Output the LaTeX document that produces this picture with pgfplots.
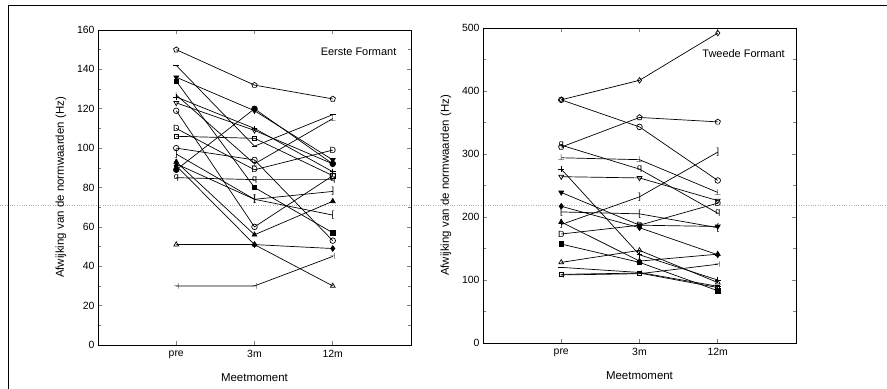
\documentclass[border=0pt]{standalone}
\usepackage{pgfplots}
\pgfplotsset{compat=1.18}
\usepackage{fontspec}
\setmainfont{Liberation Sans}
\usetikzlibrary{plotmarks}
\begin{document}
\begin{tikzpicture}
\path[use as bounding box] (0,0) rectangle (887bp,389bp);
\draw[line width=0.8pt] (8bp,0bp) -- (8bp,384bp) -- (887bp,384bp);
\draw[gray!60, dotted, line width=0.4pt] (0bp,184bp) -- (887bp,184bp);
\pgfplotsset{
  myax/.style={
    scale only axis, width=313bp, height=315bp, anchor=south west,
    xmin=0, xmax=4, xtick={1,2,3}, xticklabels={pre,3m,12m},
    minor y tick num=1,
    tick label style={font=\fontsize{10.5}{11}\selectfont},
    label style={font=\fontsize{11.5}{12}\selectfont},
    /pgf/number format/assume math mode=true,
    axis line style={line width=0.7pt},
    tick style={line width=0.6pt},
    xlabel={Meetmoment},
    ylabel={Afwijking van de normwaarden (Hz)},
    xlabel style={yshift=-8pt},
    ylabel style={yshift=4pt},
    xticklabel style={yshift=-2pt},
    every axis plot/.append style={black, line width=0.7pt, mark size=2.8pt, mark options={solid, line width=0.7pt}},
    tm/.style={mark=text, text mark={\fontsize{9}{9}\selectfont ##1}},
  }
}
% ---------------- Left panel ----------------
\begin{axis}[myax, at={(98bp,44bp)}, ymin=0, ymax=160, ytick={0,20,...,160}]
\addplot[mark=pentagon] coordinates {(1,150) (2,132) (3,125)};
\addplot[mark=-] coordinates {(1,142) (2,101) (3,117)};
\addplot[mark=triangle*, mark options={rotate=180}] coordinates {(1,136) (2,119) (3,94)};
\addplot[mark=square*, mark size=2.3pt] coordinates {(1,134) (2,80) (3,57)};
\addplot[mark=+] coordinates {(1,126) (2,110) (3,88)};
\addplot[tm={$\perp$}] coordinates {(1,127) (2,92) (3,115)};
\addplot[mark=triangle, mark options={rotate=180}] coordinates {(1,123) (2,109) (3,92)};
\addplot[mark=o] coordinates {(1,119) (2,60) (3,86)};
\addplot[tm={D}] coordinates {(1,110) (2,89) (3,99)};
\addplot[mark=square, mark size=2.3pt] coordinates {(1,106) (2,105) (3,86)};
\addplot[tm={]}] coordinates {(1,97) (2,74) (3,78)};
\addplot[mark=triangle*] coordinates {(1,93) (2,56) (3,73)};
\addplot[mark=diamond*] coordinates {(1,91) (2,51) (3,49)};
\addplot[mark=*] coordinates {(1,89) (2,120) (3,92)};
\addplot[tm={q}] coordinates {(1,85) (2,84) (3,84)};
\addplot[tm={[}] coordinates {(1,92) (2,74) (3,66)};
\addplot[mark=o] coordinates {(1,100) (2,94) (3,53)};
\addplot[mark=triangle] coordinates {(1,51) (2,51) (3,30)};
\addplot[tm={$\dashv$}] coordinates {(1,30) (2,30) (3,45)};
\node[font=\fontsize{11}{12}\selectfont] at (axis cs:3.33,149) {Eerste Formant};
\end{axis}
% ---------------- Right panel ----------------
\begin{axis}[myax, at={(483bp,46bp)}, ymin=0, ymax=500, ytick={0,100,...,500}]
\addplot[mark=diamond] coordinates {(1,386) (2,417) (3,492)};
\addplot[mark=o] coordinates {(1,386) (2,343) (3,258)};
\addplot[mark=pentagon] coordinates {(1,311) (2,358) (3,351)};
\addplot[tm={q}] coordinates {(1,314) (2,276) (3,206)};
\addplot[tm={$\perp$}] coordinates {(1,294) (2,291) (3,239)};
\addplot[mark=+] coordinates {(1,276) (2,140) (3,100)};
\addplot[mark=triangle, mark options={rotate=180}] coordinates {(1,264) (2,262) (3,226)};
\addplot[mark=triangle*, mark options={rotate=180}] coordinates {(1,239) (2,187) (3,185)};
\addplot[mark=diamond*] coordinates {(1,217) (2,183) (3,140)};
\addplot[tm={[}] coordinates {(1,208) (2,205) (3,183)};
\addplot[mark=triangle*] coordinates {(1,192) (2,130) (3,141)};
\addplot[tm={]}] coordinates {(1,188) (2,232) (3,303)};
\addplot[tm={D}] coordinates {(1,173) (2,187) (3,222)};
\addplot[mark=square*, mark size=2.3pt] coordinates {(1,157) (2,128) (3,83)};
\addplot[mark=triangle] coordinates {(1,128) (2,147) (3,96)};
\addplot[mark=-] coordinates {(1,120) (2,112) (3,90)};
\addplot[mark=square, mark size=2pt] coordinates {(1,109) (2,111) (3,88)};
\addplot[tm={$\dashv$}] coordinates {(1,108) (2,110) (3,125)};
\node[font=\fontsize{11}{12}\selectfont] at (axis cs:3.33,460) {Tweede Formant};
\end{axis}
\end{tikzpicture}
\end{document}
